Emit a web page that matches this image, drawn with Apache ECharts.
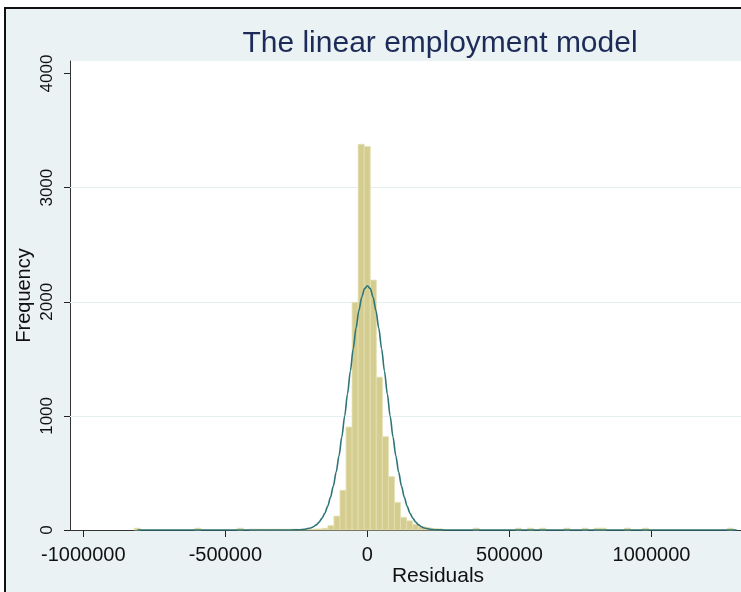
<!DOCTYPE html>
<html>
<head>
<meta charset="utf-8">
<script src="https://cdn.jsdelivr.net/npm/echarts@6/dist/echarts.min.js"></script>
<style>
  html, body { margin: 0; padding: 0; background: #ffffff; overflow: hidden; width: 741px; height: 592px; }
  #frame { position: absolute; left: 4px; top: 7px; width: 900px; height: 700px; background: #eaf2f3; border: 2px solid #111; }
  #chart { position: absolute; left: 0; top: 0; width: 830px; height: 592px; }
</style>
</head>
<body>
<div id="frame"></div>
<div id="chart"></div>
<script>
// ---- Data ----
const titleText = 'The linear employment model';
const xAxisTitle = 'Residuals';
const yAxisTitle = 'Frequency';
const xTickValues = [-1000000, -500000, 0, 500000, 1000000, 1500000];
const yTickValues = [0, 1000, 2000, 3000, 4000];
const yGridValues = [1000, 2000, 3000];

// histogram bins (bin width ~21300)
const binWidth = 21300;
const binStart = [
  -820670, -607670, -458570,
  -415970, -394670, -373370, -352070, -330770, -309470, -288170, -266870, -245570,
  -224270, -202970, -181670, -160370, -139070, -117770, -96470, -75170, -53870,
  -32570, -11270, 10030, 31330, 52630, 73930, 95230, 116530, 137830, 159130,
  180430, 201730, 223030, 244330,
  372130, 521230, 563830, 606430, 691630, 755530, 798130, 819430, 904630, 968530, 1266730
];
const binCount = [
  16, 16, 16,
  7, 7, 6, 7, 7, 6, 7, 7, 6,
  7, 7, 9, 15, 38, 122, 348, 902, 1995,
  3380, 3360, 2190, 1339, 818, 467, 242, 111, 80, 50,
  30, 20, 14, 10,
  16, 16, 16, 16, 16, 16, 16, 16, 16, 16, 16
];

// fitted normal density curve
const curveX = [
  -810000, -300000, -270000, -240000, -220000, -200000, -190000, -180000, -170000, -160000,
  -150000, -140000, -130000, -120000, -110000, -100000, -90000, -80000, -70000, -60000,
  -50000, -40000, -30000, -20000, -10000, 0, 10000, 20000, 30000, 40000,
  50000, 60000, 70000, 80000, 90000, 100000, 110000, 120000, 130000, 140000,
  150000, 160000, 170000, 180000, 190000, 200000, 220000, 240000, 270000, 300000, 1300000
];
const curveY = [
  0, 0, 0, 2, 7, 18, 29, 45, 69, 102,
  147, 207, 286, 385, 507, 651, 816, 999, 1194, 1394,
  1589, 1769, 1923, 2040, 2115, 2140, 2115, 2040, 1923, 1769,
  1589, 1394, 1194, 999, 816, 651, 507, 385, 286, 207,
  147, 102, 69, 45, 29, 18, 7, 2, 0, 0, 0
];

const FONT = 'Liberation Sans, Arial, sans-serif';

const histData = binStart.map((s, i) => [s, s + binWidth, binCount[i]]);
const curveData = curveX.map((x, i) => [x, curveY[i]]);
const plain = v => String(v);

const chart = echarts.init(document.getElementById('chart'), null, { renderer: 'canvas' });

chart.setOption({
  animation: false,
  backgroundColor: 'transparent',
  textStyle: { fontFamily: FONT },
  title: {
    text: titleText,
    left: 435,
    top: 24,
    textAlign: 'center',
    textStyle: { fontSize: 30, fontWeight: 'normal', color: '#1d2b58', fontFamily: FONT }
  },
  grid: {
    left: 70, right: 24, top: 61, bottom: 62,
    show: true, backgroundColor: '#ffffff', borderWidth: 0,
    outerBoundsMode: 'none'
  },
  xAxis: {
    type: 'value',
    min: -1047000, max: 1544000,
    name: xAxisTitle, nameLocation: 'middle', nameGap: 36,
    nameMoveOverlap: false,
    nameTextStyle: { fontSize: 21, color: '#111', fontFamily: FONT },
    axisLine: { show: true, onZero: false, lineStyle: { color: '#333', width: 1 } },
    axisTick: { show: true, inside: false, length: 7, customValues: xTickValues, lineStyle: { color: '#222', width: 1 } },
    axisLabel: { customValues: xTickValues, formatter: plain, fontSize: 20, color: '#111', margin: 15, fontFamily: FONT },
    splitLine: { show: false }
  },
  yAxis: {
    type: 'value',
    min: 0, max: 4110,
    name: yAxisTitle, nameLocation: 'middle', nameGap: 36,
    nameMoveOverlap: false,
    nameTextStyle: { fontSize: 20, color: '#111', fontFamily: FONT },
    axisLine: { show: true, onZero: false, lineStyle: { color: '#333', width: 1 } },
    axisTick: { show: true, inside: false, length: 6, customValues: yTickValues, lineStyle: { color: '#222', width: 1 } },
    axisLabel: { customValues: yTickValues, formatter: plain, rotate: 90, fontSize: 17, color: '#111', margin: 14, fontFamily: FONT },
    splitLine: { show: false }
  },
  series: [
    {
      type: 'custom',
      name: 'hist',
      data: histData,
      encode: { x: [0, 1], y: 2 },
      renderItem: function (params, api) {
        const p0 = api.coord([api.value(0), api.value(2)]);
        const p1 = api.coord([api.value(1), 0]);
        return {
          type: 'rect',
          shape: { x: p0[0], y: p0[1], width: p1[0] - p0[0], height: p1[1] - p0[1] },
          style: { fill: '#d5cd8f', stroke: '#e3dfb3', lineWidth: 0.8 }
        };
      },
      z: 2
    },
    {
      type: 'line',
      name: 'normal',
      data: curveData,
      smooth: 0.3,
      smoothMonotone: 'x',
      showSymbol: false,
      lineStyle: { color: '#2f7575', width: 1.6 },
      markLine: {
        silent: true,
        symbol: ['none', 'none'],
        label: { show: false },
        lineStyle: { color: '#e6eef0', width: 1, type: 'solid' },
        z: 1,
        data: yGridValues.map(v => ({ yAxis: v }))
      },
      z: 5
    }
  ]
});
</script>
</body>
</html>
